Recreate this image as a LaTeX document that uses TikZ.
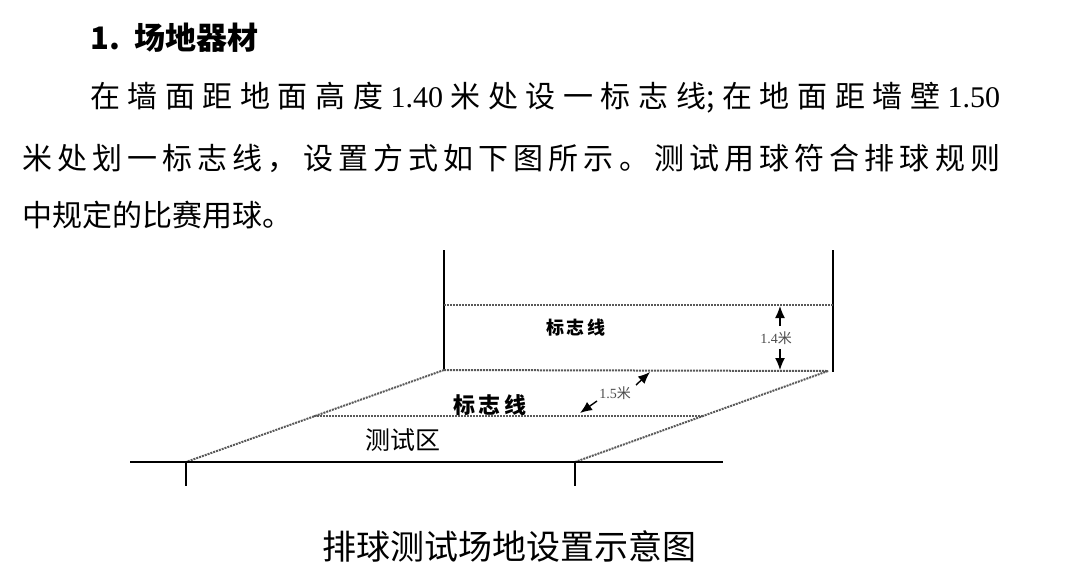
\documentclass[tikz,border=0pt]{standalone}
\usepackage{fontspec}
\setmainfont{Liberation Serif}
\newfontfamily\cjk{Noto Sans CJK SC}
\usetikzlibrary{arrows.meta}
\begin{document}
\begin{tikzpicture}[x=1pt,y=-1pt,
  dot/.style={densely dotted,line width=2pt,gray!70!black},
  solidl/.style={line width=1.5pt},
  arr/.style={-{Latex[length=12pt,width=10pt]},line width=1.4pt},
  para/.style={anchor=west,inner sep=0,font=\fontsize{30}{30}\selectfont\cjk},
  lbl/.style={inner sep=0,font=\fontsize{18}{18}\selectfont\cjk\bfseries},
  small/.style={inner sep=0,font=\fontsize{14}{14}\selectfont,gray!60!black}]
\useasboundingbox (0,0) rectangle (1080,584);
\node[para,font=\fontsize{31}{31}\selectfont\cjk\bfseries] (title) at (90,38) {1.\ \ 场地器材};
\node[para] (l1) at (90,98) {\makebox[910pt][s]{在 墙 面 距 地 面 高 度 {\rmfamily 1.40} 米 处 设 一 标 志 线; 在 地 面 距 墙 壁 {\rmfamily 1.50}}};
\node[para] (l2) at (22,158) {\makebox[978pt][s]{米 处 划 一 标 志 线 ， 设 置 方 式 如 下 图 所 示 。 测 试 用 球 符 合 排 球 规 则}};
\node[para] (l3) at (22,215) {中规定的比赛用球。};
% diagram
\coordinate (wl) at (444,250); \coordinate (wlb) at (444,370);
\coordinate (wr) at (833,250); \coordinate (wrb) at (833,372);
\draw[solidl] (wl) -- (wlb);
\draw[solidl] (wr) -- (wrb);
\coordinate (t1) at (444,305); \coordinate (t2) at (833,305);
\draw[dot] (t1) -- (t2);
\coordinate (b2) at (828,371);
\draw[dot] (wlb) -- (b2);
\coordinate (fl) at (186,462); \coordinate (fr) at (575,462);
\draw[dot] (wlb) -- (fl);
\draw[dot] (b2) -- (fr);
\coordinate (m1) at (314,416); \coordinate (m2) at (704,416);
\draw[dot] (m1) -- (m2);
\coordinate (g1) at (130,462); \coordinate (g2) at (723,462);
\draw[solidl] (g1) -- (g2);
\coordinate (k1) at (186,486); \coordinate (k2) at (575,486);
\draw[line width=1.2pt] (fl) -- (k1);
\draw[line width=1.2pt] (fr) -- (k2);
\node[lbl] (n1) at (576,328) {标\,志\,线};
\node[lbl,font=\fontsize{22}{22}\selectfont\cjk\bfseries] (n2) at (490,405) {标\,志\,线};
\node[lbl,font=\fontsize{25}{25}\selectfont\cjk] (n3) at (403,440) {测试区};
\node[small] (h14) at (776,338) {1.4{\cjk 米}};
\coordinate (a1) at (780,306); \coordinate (a2) at (780,370);
\draw[arr] (780,326) -- (a1);
\draw[arr] (780,349) -- (a2);
\node[small] (h15) at (615,393) {1.5{\cjk 米}};
\coordinate (a3) at (650,372); \coordinate (a4) at (580,413);
\draw[arr] (636,385) -- (a3);
\draw[arr] (597,401) -- (a4);
\node[inner sep=0,font=\fontsize{34}{34}\selectfont\cjk] (cap) at (509,546) {排球测试场地设置示意图};
\end{tikzpicture}
\end{document}
